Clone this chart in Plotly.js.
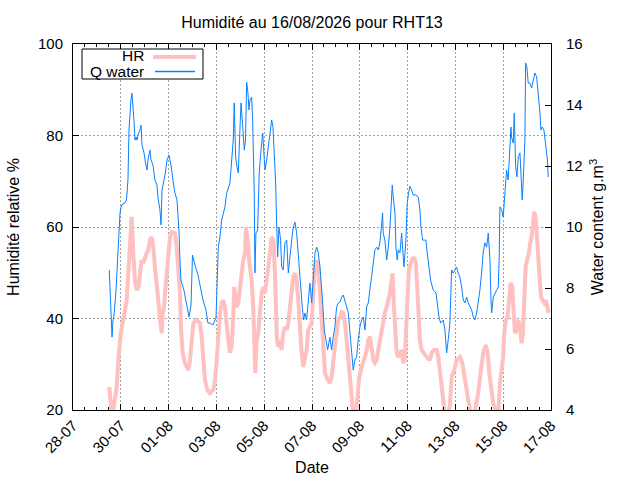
<!DOCTYPE html>
<html>
<head>
<meta charset="utf-8">
<script src="https://cdn.plot.ly/plotly-3.0.1.min.js"></script>
<style>
  html, body { margin: 0; padding: 0; background: #fff; }
  #chart { width: 640px; height: 480px; }
</style>
</head>
<body>
<div id="chart"></div>
<script>
// hours counted from 28-07-2026 00:00
const START_MS = Date.UTC(2026, 6, 28);
const END_MS = Date.UTC(2026, 7, 17);
const HOUR_MS = 3600 * 1000;

const hrHours = [
  36.4, 37.6, 38.7, 40.2, 42.2, 43.9, 45.5, 47.9, 50.5, 53.9,
  55.5, 57.2, 58.9, 60.5, 62.2, 64, 65.6, 67.3, 69, 70.6,
  72.3, 74, 75.6, 77.3, 79, 80.6, 82.3, 84, 85.6, 87.3,
  89.1, 90.1, 91.4, 92.4, 94.1, 95.7, 97.4, 99.1, 102.4, 104.1,
  105.7, 107.4, 108.4, 110.1, 112.4, 115.8, 117.5, 119.2, 120.8, 124.2,
  127.5, 129.2, 130.8, 132.5, 134.8, 137.5, 140.9, 142.6, 144.3, 145.9,
  147.6, 149.3, 150.9, 152.6, 154.3, 155.9, 157.6, 159.3, 160.9, 161.9,
  163.3, 164.4, 166, 167.7, 169.4, 171, 172.7, 173.7, 175.4, 176.7,
  177.7, 179.4, 181, 182, 183, 184.4, 186, 187.7, 189.5, 191.1,
  192.8, 194.5, 196.1, 197.8, 199.5, 201.1, 202.8, 203.8, 204.8, 206.1,
  207.8, 209.5, 211.1, 212.8, 214.6, 216.2, 217.9, 219.6, 221.2, 222.9,
  224.6, 226.2, 227.9, 229.6, 231.2, 232.9, 234.6, 236.2, 237.9, 239.7,
  241.3, 243, 244.7, 246.3, 248, 249.7, 251.3, 253, 255.7, 258,
  259.7, 261.3, 263, 264.7, 266.4, 268.1, 269.8, 271.4, 273.1, 274.8,
  276.4, 278.1, 279.8, 281.4, 284.1, 285.4, 287.4, 289.9, 291.5, 293.2,
  294.9, 296.5, 298.2, 299.9, 301.5, 303.2, 304.9, 306.5, 308.2, 309.9,
  311.5, 313.2, 315, 316.6, 318.3, 320, 321, 322.3, 323.6, 325,
  326.6, 328.3, 330, 331.6, 333.3, 334.3, 335.6, 337.3, 340.1, 342.4,
  344.4, 345.7, 347.1, 348.4, 350.1, 351.7, 355.1, 358.4, 360.1, 362.4,
  365.1, 366.8, 368.5, 370.2, 371.8, 373.5, 376.8, 378.5, 380.2, 382.8,
  385.2, 388.5, 390.9, 392.9, 394.9, 396.9, 399.6, 402.6, 404.3, 406.9,
  409.3, 411.9, 414.4, 416.4, 418, 420.4, 422, 425.4, 427, 428.7,
  430.4, 432, 433, 434.7, 436.4, 438, 439.4, 441.1, 442.5, 443.8,
  445.5, 447.1, 448.8, 450.5, 451.8, 453.1, 454.5, 456.1, 457.8, 459.1,
  460.5, 461.5, 463.1, 464.5, 466.2, 467.2, 468.6, 469.9, 471.6, 473.2,
  474.9, 476.2, 477.6
];

const hrValues = [
  25.0, 21.1, 19.6, 19.6, 22.2, 25.0, 30.9, 36.8, 39.7, 44.0,
  49.9, 57.2, 62.2, 54.3, 48.4, 46.2, 46.9, 49.9, 52.8, 52.1,
  53.4, 54.3, 55.0, 57.2, 57.8, 55.6, 51.3, 48.4, 44.0, 39.7,
  36.8, 41.2, 42.5, 45.6, 49.9, 53.4, 57.8, 58.9, 58.7, 55.6,
  51.3, 45.6, 38.1, 32.5, 30.3, 28.7, 30.9, 35.3, 39.0, 39.7,
  39.0, 36.0, 30.9, 26.6, 24.4, 23.7, 24.4, 26.6, 30.9, 36.8,
  41.2, 43.4, 44.0, 42.5, 37.5, 35.3, 32.5, 33.8, 40.3, 46.9,
  44.0, 42.5, 43.4, 47.8, 49.9, 52.8, 54.3, 60.0, 57.2, 52.8,
  50.6, 48.4, 42.5, 36.8, 28.1, 35.3, 36.8, 41.2, 45.6, 46.9,
  45.6, 48.4, 50.6, 54.3, 57.8, 57.2, 49.9, 41.2, 35.3, 33.8,
  35.3, 33.1, 36.8, 38.1, 37.5, 39.0, 42.5, 46.9, 49.1, 49.9,
  48.4, 44.0, 36.8, 32.5, 29.4, 30.9, 33.1, 37.5, 38.1, 39.0,
  45.6, 51.3, 52.8, 51.3, 45.6, 39.7, 31.6, 28.1, 26.6, 25.9,
  27.2, 31.6, 33.8, 36.8, 39.7, 40.3, 41.4, 41.2, 39.0, 35.3,
  30.9, 25.9, 22.2, 19.0, 19.0, 22.8, 27.2, 29.4, 30.9, 31.6,
  33.1, 35.3, 36.0, 33.8, 30.9, 30.3, 30.9, 33.1, 35.3, 36.8,
  39.7, 41.2, 42.5, 44.0, 45.6, 48.4, 49.9, 42.5, 35.3, 32.5,
  31.6, 32.5, 33.1, 30.3, 30.9, 36.8, 44.0, 50.6, 52.8, 53.4,
  52.1, 46.9, 41.2, 35.3, 33.1, 32.5, 31.6, 30.9, 32.5, 33.1,
  33.1, 31.6, 28.7, 25.9, 22.2, 19.0, 19.0, 21.1, 27.2, 28.7,
  30.9, 31.6, 30.3, 27.2, 24.4, 22.2, 19.0, 19.0, 20.7, 23.7,
  28.1, 32.5, 34.2, 32.5, 28.1, 23.7, 21.5, 19.0, 19.0, 25.9,
  29.4, 31.6, 36.8, 39.7, 40.3, 44.0, 47.8, 46.9, 41.2, 36.8,
  37.5, 39.7, 38.1, 34.6, 36.8, 44.0, 51.3, 52.8, 54.3, 56.5,
  57.8, 60.0, 63.3, 62.2, 57.2, 53.4, 48.4, 44.7, 44.0, 43.4,
  44.0, 42.5, 41.2
];

const qHours = [
  36.4, 37.6, 38.7, 39.2, 40.2, 41.2, 43.2, 44.7, 46.2, 47.2,
  48.7, 52.2, 53.7, 55.2, 56.2, 57.2, 58.2, 59.2, 60.2, 61.2,
  62.2, 63.3, 64.3, 65.3, 67.3, 68.3, 69.3, 71.3, 72.8, 74.3,
  75.3, 77.3, 78.3, 80.3, 82.3, 84.3, 85.3, 87.3, 88.4, 89.4,
  92.4, 94.4, 96.4, 98.4, 100.4, 102.4, 104.4, 106.4, 107.4, 108.4,
  111.4, 114.5, 116.5, 118.5, 120, 122.5, 125.5, 127.5, 130.5, 133.5,
  135.5, 137.5, 140.6, 143.6, 144.6, 145.9, 147.6, 149.3, 152.6, 154.3,
  157.6, 159.3, 160.9, 161.9, 163.3, 164.7, 166, 167.2, 168.7, 170,
  172, 173.2, 174.4, 175.7, 176.7, 177.7, 179.4, 180.4, 182, 182.7,
  183.7, 185.4, 186, 187, 188.8, 190.5, 192.1, 192.8, 194.5, 196.1,
  197.8, 199.5, 200.8, 202.1, 203.5, 204.5, 205.5, 206.8, 208.5, 209.5,
  211.1, 212.8, 214.6, 216.2, 217.9, 219.6, 221.2, 222.9, 224.6, 226.2,
  227.9, 228.9, 230.2, 231.6, 232.9, 234.6, 236.2, 237.9, 239.7, 241.3,
  243, 244.7, 246.3, 248, 249.7, 251, 252.3, 253.7, 255.7, 258,
  259.7, 261.3, 263, 264.7, 266.4, 268.1, 269.8, 271.4, 273.1, 274.8,
  276.4, 278.1, 279.8, 281.4, 283.1, 284.8, 286.4, 288.1, 289.9, 291.5,
  293.2, 294.9, 296.5, 298.2, 299.9, 301.5, 303.2, 304.9, 306.5, 308.2,
  309.9, 310.9, 311.5, 313.2, 315, 316.6, 318.3, 319.3, 320.6, 321.6,
  323.3, 324.3, 325.6, 326.6, 328.3, 330, 331, 332.3, 334.3, 335.6,
  337, 338.3, 340.1, 341.7, 344.4, 346.7, 348.4, 349.4, 351.1, 352.7,
  354.4, 355.7, 357.4, 359.1, 361.7, 364.5, 365.8, 367.5, 369.2, 371.8,
  373.5, 375.2, 376.8, 378.5, 380.2, 381.8, 383.5, 385.2, 386.8, 388.5,
  390.3, 391.9, 393.6, 395.3, 396.9, 398.6, 400.3, 401.9, 403.6, 405.3,
  406.9, 408.6, 410.3, 411.9, 413.6, 415.4, 417, 418.7, 419.7, 420.4,
  422, 423.7, 425.4, 427, 428, 428.7, 430.4, 432, 433, 434.4,
  435.4, 437, 438.7, 439.8, 440.4, 442.1, 443.1, 444.5, 445.8, 447.1,
  448.8, 449.8, 451.1, 452.1, 453.8, 454.5, 455.8, 457.1, 458.8, 460.5,
  462.1, 463.8, 465.6, 467.2, 468.9, 469.9, 471.2, 472.9, 473.9, 475.6,
  476.4, 477.2
];

const qValues = [
  8.59, 7.61, 6.62, 6.39, 6.95, 7.11, 7.93, 8.92, 9.57, 10.46,
  10.72, 10.79, 10.89, 11.54, 13.18, 13.93, 14.16, 14.39, 14.0, 13.51,
  12.85, 12.95, 12.85, 13.02, 13.18, 13.34, 12.69, 12.43, 12.10, 11.87,
  12.20, 12.52, 12.20, 12.03, 11.54, 11.38, 10.98, 10.56, 10.07, 11.21,
  11.70, 12.20, 12.36, 12.03, 11.54, 11.11, 10.89, 9.90, 8.92, 8.26,
  7.93, 7.44, 7.05, 7.44, 9.08, 8.75, 8.43, 8.10, 7.61, 7.28,
  6.85, 6.85, 6.79, 7.02, 7.84, 9.34, 9.67, 10.23, 10.66, 11.11,
  11.44, 12.30, 12.85, 14.07, 12.30, 11.97, 11.77, 12.85, 14.07, 13.51,
  12.52, 12.85, 14.75, 14.39, 13.84, 14.16, 14.26, 13.51, 11.11, 8.49,
  9.80, 9.90, 11.11, 11.77, 12.52, 13.08, 12.20, 11.87, 12.20, 12.62,
  12.95, 13.51, 13.28, 12.43, 11.44, 10.13, 9.02, 10.00, 9.57, 8.69,
  8.59, 9.48, 9.57, 8.49, 9.15, 9.57, 10.00, 10.16, 9.80, 9.02,
  8.26, 8.03, 7.38, 6.95, 7.18, 6.95, 7.61, 8.16, 7.51, 8.26,
  9.15, 9.34, 9.15, 8.69, 8.03, 7.38, 6.62, 6.30, 5.97, 6.39,
  5.97, 6.39, 6.72, 7.38, 7.51, 7.54, 7.70, 7.77, 7.61, 7.38,
  7.18, 6.52, 5.97, 5.31, 5.64, 5.74, 6.30, 6.72, 6.95, 7.05,
  6.62, 7.38, 7.51, 7.93, 8.26, 8.69, 9.25, 9.34, 9.25, 9.48,
  10.33, 10.46, 9.80, 9.57, 8.92, 9.34, 10.00, 10.46, 11.38, 10.98,
  10.46, 9.34, 8.92, 9.25, 9.15, 9.80, 9.34, 8.69, 9.57, 10.79,
  11.11, 11.34, 11.21, 11.05, 11.05, 10.98, 10.56, 10.00, 9.57, 9.57,
  9.57, 9.15, 8.69, 8.26, 7.93, 7.84, 7.51, 7.05, 6.85, 6.95,
  6.62, 5.87, 6.30, 6.85, 8.59, 8.49, 8.59, 8.69, 8.49, 8.36,
  8.03, 7.61, 7.51, 7.70, 7.51, 7.38, 7.28, 7.05, 6.95, 7.18,
  7.51, 7.93, 8.49, 9.15, 9.48, 9.34, 9.80, 8.92, 7.61, 7.18,
  7.70, 7.84, 7.93, 8.03, 9.02, 10.66, 10.56, 10.33, 10.89, 11.54,
  11.87, 11.54, 12.85, 13.28, 12.95, 12.75, 13.74, 11.97, 11.64, 12.30,
  12.43, 11.54, 10.89, 11.54, 12.85, 15.38, 15.25, 14.72, 14.72, 14.56,
  14.82, 15.05, 14.92, 14.39, 13.74, 13.18, 13.28, 13.18, 12.85, 12.52,
  12.20, 11.64
];

const FONT = '"Liberation Sans", Arial, Helvetica, sans-serif';
const HR_COLOR = "#ffc0c0";
const Q_COLOR = "#0a80ff";
const GRID_COLOR = "#a0a0a0";

const toTime = hours => hours.map(h => START_MS + h * HOUR_MS);

const hrTrace = {
  type: "scatter",
  mode: "lines",
  name: "HR",
  x: toTime(hrHours),
  y: hrValues,
  line: { color: HR_COLOR, width: 4 },
  yaxis: "y",
};

const qTrace = {
  type: "scatter",
  mode: "lines",
  name: "Q water",
  x: toTime(qHours),
  y: qValues,
  line: { color: Q_COLOR, width: 1 },
  yaxis: "y2",
};

// gnuplot style key: right-aligned label, sample on the right
function px(x) { return (x - 73) / 478; }
function py(y) { return (410 - y) / 366; }

const keyShapes = [
  { type: "rect", xref: "paper", yref: "paper", x0: px(82), x1: px(203), y0: py(79), y1: py(49),
    line: { color: "#000", width: 1 }, fillcolor: "rgba(255,255,255,1)", layer: "above" },
  { type: "line", xref: "paper", yref: "paper", x0: px(153), x1: px(196), y0: py(57), y1: py(57),
    line: { color: HR_COLOR, width: 4 }, layer: "above" },
  { type: "line", xref: "paper", yref: "paper", x0: px(155), x1: px(195), y0: py(71.5), y1: py(71.5),
    line: { color: Q_COLOR, width: 1.3 }, layer: "above" },
];

const keyLabels = [
  { text: "HR", xref: "paper", yref: "paper", x: px(146), y: py(55.5), xanchor: "right", yanchor: "middle",
    showarrow: false, font: { family: FONT, size: 15.5, color: "#000" } },
  { text: "Q water", xref: "paper", yref: "paper", x: px(146), y: py(71.5), xanchor: "right", yanchor: "middle",
    showarrow: false, font: { family: FONT, size: 15.5, color: "#000" } },
];

const layout = {
  width: 640,
  height: 480,
  margin: { l: 73, r: 89, t: 44, b: 70 },
  paper_bgcolor: "#fff",
  plot_bgcolor: "#fff",
  font: { family: FONT, size: 15, color: "#000" },
  showlegend: false,
  title: {
    text: "Humidité au 16/08/2026 pour RHT13",
    font: { family: FONT, size: 16, color: "#000" },
    xref: "paper",
    x: 0.5,
    xanchor: "center",
    yref: "container",
    y: 1 - 22 / 480,
    yanchor: "middle",
  },
  xaxis: {
    type: "date",
    range: [START_MS, END_MS],
    tick0: START_MS,
    dtick: 2 * 24 * HOUR_MS,
    tickformat: "%d-%m",
    tickangle: -45,
    tickfont: { family: FONT, size: 15 },
    ticks: "inside",
    ticklen: 6,
    tickcolor: "#000",
    showline: true,
    linecolor: "#000",
    linewidth: 1,
    mirror: "ticks",
    showgrid: true,
    gridcolor: GRID_COLOR,
    griddash: "2px,2px",
    gridwidth: 1,
    zeroline: false,
    minor: { dtick: 12 * HOUR_MS, ticks: "inside", ticklen: 3, tickcolor: "#000", showgrid: false },
    title: { text: "Date", font: { family: FONT, size: 16 }, standoff: 6 },
    automargin: false,
  },
  yaxis: {
    range: [20, 100],
    dtick: 20,
    tickfont: { family: FONT, size: 15 },
    ticks: "inside",
    ticklen: 6,
    tickcolor: "#000",
    showline: true,
    linecolor: "#000",
    linewidth: 1,
    showgrid: true,
    gridcolor: GRID_COLOR,
    griddash: "2px,2px",
    gridwidth: 1,
    zeroline: false,
    ticklabelstandoff: 6,
    title: { text: "Humidité relative %", font: { family: FONT, size: 16 }, standoff: 14 },
    automargin: false,
  },
  yaxis2: {
    overlaying: "y",
    side: "right",
    range: [4, 16],
    dtick: 2,
    tickfont: { family: FONT, size: 15 },
    ticks: "inside",
    ticklen: 6,
    tickcolor: "#000",
    showline: true,
    linecolor: "#000",
    linewidth: 1,
    showgrid: false,
    zeroline: false,
    ticklabelstandoff: 11,
    title: { text: "Water content g.m<sup>3</sup>", font: { family: FONT, size: 16 }, standoff: 10 },
    automargin: false,
  },
  shapes: keyShapes,
  annotations: keyLabels,
};

Plotly.newPlot("chart", [hrTrace, qTrace], layout, { displayModeBar: false, staticPlot: true });
</script>
</body>
</html>
